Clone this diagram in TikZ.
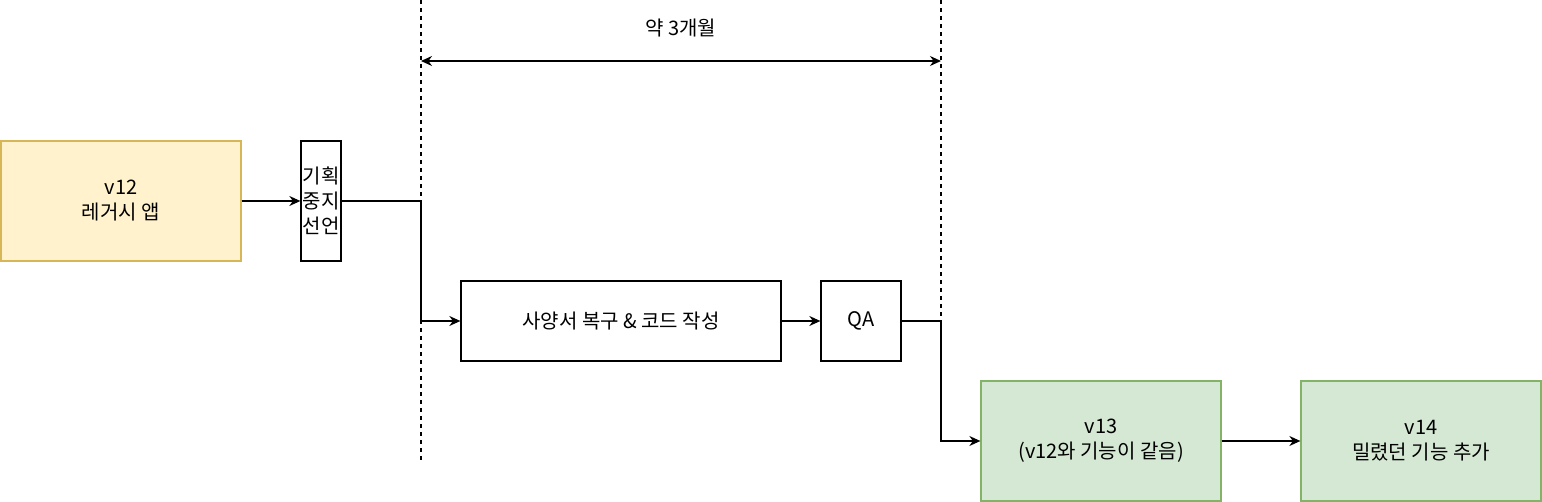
\documentclass[tikz,border=0pt]{standalone}
\usepackage{fontspec}
\setmainfont{Noto Sans CJK KR}
\usetikzlibrary{arrows.meta}
\definecolor{yf}{HTML}{FFF2CC}\definecolor{ys}{HTML}{D6B656}
\definecolor{gf}{HTML}{D5E8D4}\definecolor{gs}{HTML}{82B366}
\begin{document}
\begin{tikzpicture}[x=1pt,y=-1pt,
 box/.style={draw,line width=1.3pt,align=center,inner sep=0pt,font=\fontsize{20}{25}\selectfont},
 arr/.style={-{Stealth[length=11pt,width=10pt]},line width=1.3pt},
 guide/.style={line width=1.2pt,dash pattern=on 4pt off 4pt}]
\useasboundingbox (0,0) rectangle (1542,502);
\node[box,fill=yf,draw=ys,minimum width=240,minimum height=120] (v12) at (121,201) {v12\\레거시 앱};
\node[box,minimum width=40,minimum height=120] (stop) at (341,201) [minimum width=40,xshift=-20pt] {기획\\중지\\선언};
\node[box,minimum width=320,minimum height=80] (spec) at (621,321) {사양서 복구 \& 코드 작성};
\node[box,minimum width=80,minimum height=80] (qa) at (861,321) {QA};
\node[box,fill=gf,draw=gs,minimum width=240,minimum height=120] (v13) at (1101,441) {v13\\(v12와 기능이 같음)};
\node[box,fill=gf,draw=gs,minimum width=240,minimum height=120] (v14) at (1421,441) {v14\\밀렸던 기능 추가};
\coordinate (d1t) at (421,0); \coordinate (d1b) at (421,461);
\coordinate (d2t) at (941,0); \coordinate (d2b) at (941,321);
\draw[guide] (d1t) -- (d1b);
\draw[guide] (d2t) -- (d2b);
\coordinate (a1) at (421,61); \coordinate (a2) at (941,61);
\draw[{Stealth[length=11pt,width=10pt]}-{Stealth[length=11pt,width=10pt]},line width=1.3pt] (a1) -- (a2);
\node[font=\fontsize{20}{25}\selectfont] (lbl) at (681,28) {약 3개월};
\draw[arr] (v12) -- (stop);
\draw[arr] (stop.east) -- (421,201) |- (spec.west);
\draw[arr] (spec) -- (qa);
\draw[arr] (qa.east) -- (941,321) |- (v13.west);
\draw[arr] (v13) -- (v14);
\end{tikzpicture}
\end{document}
